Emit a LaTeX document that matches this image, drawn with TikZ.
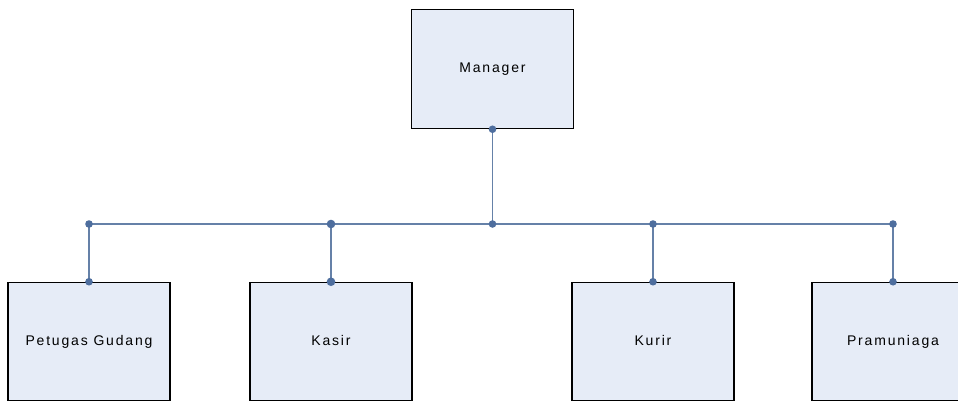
\documentclass[tikz,border=0pt]{standalone}
\usepackage{fontspec}
\setmainfont{Liberation Sans}[LetterSpace=13]
\begin{document}
\begin{tikzpicture}[x=1pt,y=-1pt,
  box/.style={draw=black,line width=1.5pt,fill=boxfill,minimum width=162pt,minimum height=118pt,inner sep=0pt,font=\fontsize{14}{16}\selectfont,text=black,text height=10pt,text depth=3pt},
  link/.style={draw=linkc,line width=1.7pt},
  jdot/.style={fill=dotc,draw=none}]
\definecolor{boxfill}{HTML}{E6ECF7}
\definecolor{linkc}{HTML}{6581A8}
\definecolor{dotc}{HTML}{4E6E9E}
\useasboundingbox (0,0) rectangle (958,402);
\begin{scope}
\clip (0,0) rectangle (958,402);
\node[box,minimum height=119pt] (mgr) at (492.5,69) {Manager};
\node[box] (pet) at (89,341.5) {Petugas Gudang};
\node[box] (kas) at (331,341.5) {Kasir};
\node[box] (kur) at (653,341.5) {Kurir};
\node[box] (pra) at (893,341.5) {Pramuniaga};
\coordinate (bus) at (492.5,224);
\coordinate (jp) at (pet.north |- bus);
\coordinate (jk) at (kas.north |- bus);
\coordinate (ju) at (kur.north |- bus);
\coordinate (jr) at (pra.north |- bus);
\draw[link] (mgr.south) -- (bus);
\draw[link] (jp) -- (jr);
\draw[link] (jp) -- (pet.north);
\draw[link] (jk) -- (kas.north);
\draw[link] (ju) -- (kur.north);
\draw[link] (jr) -- (pra.north);
\foreach \p in {mgr.south,bus,jp,ju,jr,pet.north,kur.north,pra.north}
  \fill[jdot] (\p) circle (3.8pt);
\foreach \p in {jk,kas.north}
  \fill[jdot] (\p) circle (4.3pt);
\end{scope}
\end{tikzpicture}
\end{document}
